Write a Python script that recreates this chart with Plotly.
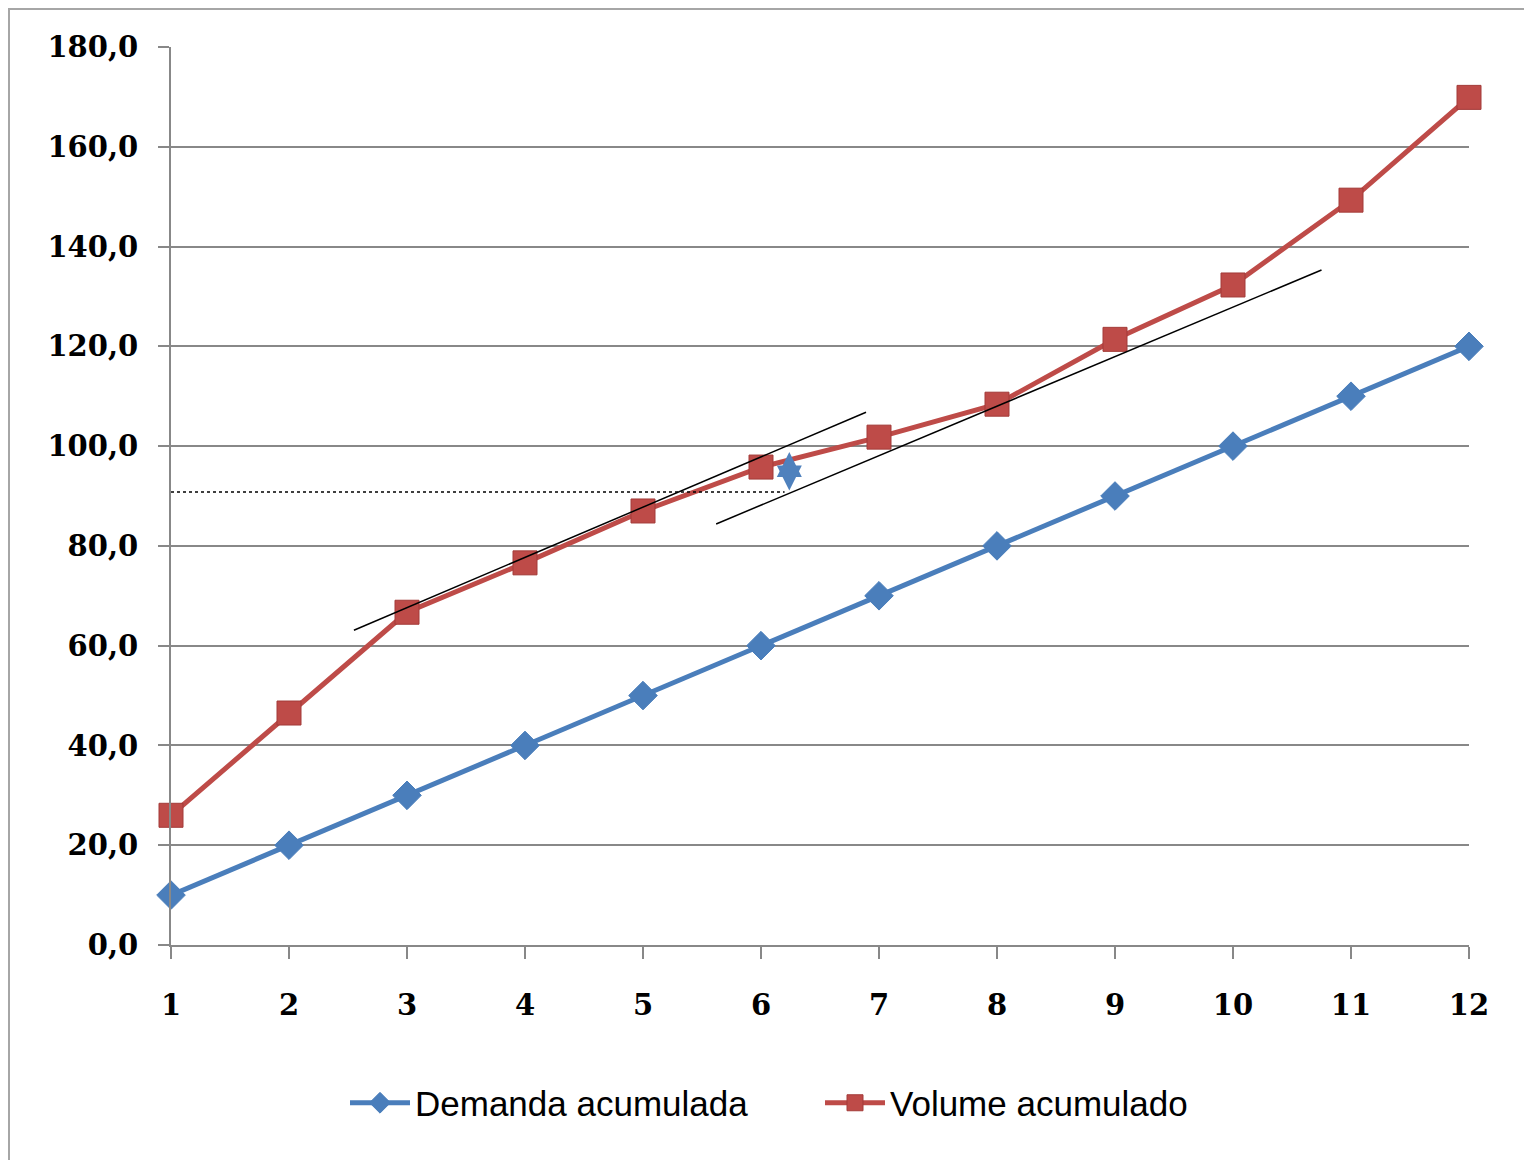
import plotly.graph_objects as go

# ---- data ----
periods = list(range(1, 13))
demanda_acumulada = [10, 20, 30, 40, 50, 60, 70, 80, 90, 100, 110, 120]
volume_acumulado = [26.0, 46.5, 66.7, 76.6, 87.0, 95.8, 101.8, 108.4, 121.4, 132.3, 149.3, 169.9]
y_ticks = [0, 20, 40, 60, 80, 100, 120, 140, 160, 180]

# annotation geometry (data units)
tangent1_x = [2.55, 6.89]
tangent1_y = [63.1, 106.8]
tangent2_x = [5.62, 10.75]
tangent2_y = [84.4, 135.3]
stock_level_y = 90.8
stock_line_x = [1.0, 6.2]
arrow_x = 6.24
arrow_y = [90.8, 98.8]

BLUE = "#4A7EBB"
RED = "#BE4B48"
GRID = "#888888"

fig = go.Figure()
fig.add_trace(go.Scatter(
    x=periods, y=demanda_acumulada, name="Demanda acumulada",
    mode="lines+markers", cliponaxis=False,
    line=dict(color=BLUE, width=5),
    marker=dict(symbol="diamond", size=22, color=BLUE, line=dict(color=BLUE, width=1)),
))
fig.add_trace(go.Scatter(
    x=periods, y=volume_acumulado, name="Volume acumulado",
    mode="lines+markers", cliponaxis=False,
    line=dict(color=RED, width=5),
    marker=dict(symbol="square", size=24, color=RED, line=dict(color="#A33B38", width=1)),
))

# the page is offset by an 8px body margin; the figure starts at page (8, 8)
OFF = 8
L, R, T, B = 171 - OFF, 1469 - OFF, 47 - OFF, 945 - OFF
W, H = 1532 - OFF, 1160 - OFF
def px(xp):
    return (xp - OFF - L) / (R - L)
def py(yp):
    return (B - (yp - OFF)) / (B - T)

shapes = [
    dict(type="rect", xref="paper", yref="paper", layer="below",
         x0=px(9), x1=px(1529), y0=py(9), y1=py(1175),
         fillcolor="white", line=dict(color="#A6A6A6", width=2)),
    # tangent lines
    dict(type="line", xref="x", yref="y", x0=tangent1_x[0], x1=tangent1_x[1],
         y0=tangent1_y[0], y1=tangent1_y[1], line=dict(color="black", width=1.5)),
    dict(type="line", xref="x", yref="y", x0=tangent2_x[0], x1=tangent2_x[1],
         y0=tangent2_y[0], y1=tangent2_y[1], line=dict(color="black", width=1.5)),
    # dashed horizontal level
    dict(type="line", xref="x", yref="y", x0=stock_line_x[0], x1=stock_line_x[1],
         y0=stock_level_y, y1=stock_level_y, line=dict(color="black", width=1.5, dash="dot")),
]

annotations = [
    dict(x=arrow_x, y=arrow_y[1], ax=arrow_x, ay=arrow_y[0], xref="x", yref="y",
         axref="x", ayref="y", text="", showarrow=True, arrowhead=2, arrowside="end+start",
         arrowsize=1.0, arrowwidth=5, arrowcolor="#4F81BD"),
]

tick_font = dict(family="DejaVu Serif", size=29, color="black", weight="bold")

fig.update_layout(
    width=W, height=H,
    margin=dict(l=L, r=W - R, t=T, b=H - B),
    paper_bgcolor="white",
    plot_bgcolor="white",
    separators=",.",
    shapes=shapes,
    annotations=annotations,
    showlegend=True,
    legend=dict(
        orientation="h", x=px(345), xanchor="left", y=py(1103), yanchor="middle",
        font=dict(family="Liberation Sans Narrow, Arial Narrow, Liberation Sans, sans-serif",
                  size=35, color="black"),
        entrywidth=400, entrywidthmode="pixels",
        itemwidth=60, traceorder="normal", bgcolor="rgba(0,0,0,0)",
    ),
    xaxis=dict(
        range=[1, 12], tickmode="array", tickvals=periods,
        ticktext=[str(p) for p in periods],
        showgrid=False, zeroline=False,
        showline=True, linecolor=GRID, linewidth=2,
        ticks="outside", ticklen=12, tickwidth=2, tickcolor=GRID,
        tickfont=tick_font, ticklabelstandoff=21,
    ),
    yaxis=dict(
        range=[0, 180], tickmode="array", tickvals=y_ticks, tickformat=".1f",
        showgrid=True, gridcolor=GRID, gridwidth=2, zeroline=False,
        showline=True, linecolor=GRID, linewidth=2,
        ticks="outside", ticklen=11, tickwidth=2, tickcolor=GRID,
        tickfont=tick_font, ticklabelstandoff=14,
    ),
)

fig.write_html("out.html")
